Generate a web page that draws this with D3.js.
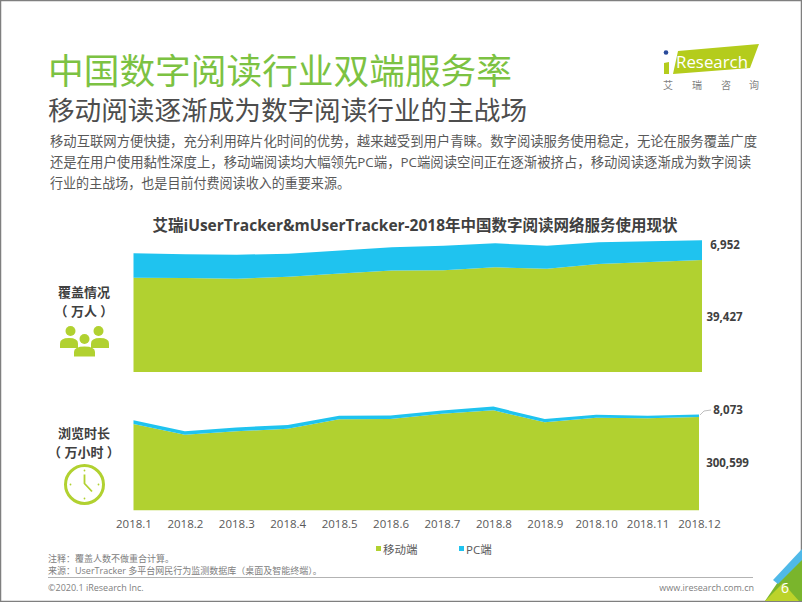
<!DOCTYPE html>
<html lang="zh">
<head>
<meta charset="utf-8">
<script src="https://cdn.jsdelivr.net/npm/d3@7/dist/d3.min.js"></script>
<style>
html,body{margin:0;padding:0;background:#fff}
svg{display:block}
text{font-family:"Open Sans","Noto Sans CJK SC",sans-serif}
</style>
</head>
<body>
<svg id="c" width="802" height="602"></svg>
<script>
const months = ["2018.1","2018.2","2018.3","2018.4","2018.5","2018.6","2018.7","2018.8","2018.9","2018.10","2018.11","2018.12"];
const coverMobile = [33200,33100,32850,33550,34700,35700,35800,36850,36350,38000,38700,39427];
const coverPC = [8600,8350,8450,8100,8100,8250,8650,8450,8100,7650,7300,6952];
const timeMobile = [278000,243550,254500,262900,293200,294100,311200,322200,283500,298300,296400,300599];
const timePC = [12000,11000,12500,12000,11500,11500,10500,12000,10800,9500,8500,8073];
const seriesNames = ["移动端","PC端"];
const seriesColors = ["#b1d130","#1fc3ef"];
const bodyLines = [
 "移动互联网方便快捷，充分利用碎片化时间的优势，越来越受到用户青睐。数字阅读服务使用稳定，无论在服务覆盖广度",
 "还是在用户使用黏性深度上，移动端阅读均大幅领先PC端，PC端阅读空间正在逐渐被挤占，移动阅读逐渐成为数字阅读",
 "行业的主战场，也是目前付费阅读收入的重要来源。"
];

const svg = d3.select("#c");

// page frame
svg.append("rect").attr("x",0.5).attr("y",0.5).attr("width",801).attr("height",601)
  .attr("fill","none").attr("stroke","#7f7f7f").attr("stroke-width",1.5);

// headings
const txt = (x,y,s,size,fill,opts={}) => svg.append("text").attr("x",x).attr("y",y).text(s)
  .attr("font-size",size).attr("fill",fill)
  .attr("font-weight",opts.w||400).attr("text-anchor",opts.a||"start")
  .attr("textLength",opts.len||null).attr("lengthAdjust",opts.len?"spacingAndGlyphs":null);

txt(48,84,"中国数字阅读行业双端服务率",35.6,"#7cc242",{len:464});
txt(48,120,"移动阅读逐渐成为数字阅读行业的主战场",26.6,"#4d4d4d",{len:479});
bodyLines.forEach((l,i)=>{
  const lens=[707,701,300];
  txt(50,[146,167,188][i],l,13.4,"#595959",{len:lens[i]});
});

// chart title
txt(415,231,"艾瑞iUserTracker&mUserTracker-2018年中国数字阅读网络服务使用现状",15.5,"#404040",{w:700,a:"middle"});

// scales
const xTop = d3.scalePoint().domain(months).range([133.5,702]);
const yTop = d3.scaleLinear().domain([0,50000]).range([372,230]);
const xBot = d3.scalePoint().domain(months).range([133.5,699]);
const yBot = d3.scaleLinear().domain([0,350000]).range([510.3,401.7]);

function stacked(x,y,mobile,pc){
  const rows = months.map((m,i)=>({m,mobile:mobile[i],pc:pc[i]}));
  const layers = d3.stack().keys(["mobile","pc"])(rows);
  const area = d3.area().x(d=>x(d.data.m)).y0(d=>y(d[0])).y1(d=>y(d[1]));
  svg.append("g").selectAll("path").data(layers).join("path")
    .attr("d",area).attr("fill",(d,i)=>seriesColors[i]);
}
stacked(xTop,yTop,coverMobile,coverPC);
stacked(xBot,yBot,timeMobile,timePC);

// axis labels
const axis = d3.axisBottom(xBot).tickSize(0).tickPadding(0);
const axG = svg.append("g").attr("transform","translate(0,520)").call(axis);
axG.select(".domain").remove();
axG.selectAll("text").attr("font-size",11.5).attr("fill","#595959")
  .attr("font-family",'"Open Sans",sans-serif').attr("dy","0.71em");

// end value labels
const fmt = d3.format(",");
const lab=(x,y,v)=>txt(x,y,fmt(v),11.5,"#404040",{w:700,a:"middle"});
lab(725,249,coverPC[11]);
lab(724.5,321,coverMobile[11]);
lab(728,414,timePC[11]);
lab(727.5,467,timeMobile[11]);
svg.append("path").attr("d","M700,415 L704,411 L711,410").attr("fill","none").attr("stroke","#bfbfbf").attr("stroke-width",1);

// left labels
txt(84,297,"覆盖情况",13,"#404040",{w:700,a:"middle"});
txt(84,316,"（ 万人 ）",13,"#404040",{w:700,a:"middle"});
txt(84,438,"浏览时长",13,"#404040",{w:700,a:"middle"});
txt(84,457,"（ 万小时 ）",13,"#404040",{w:700,a:"middle"});

// people icon
const G="#b1d130";
const person=(cx,cy,r,bx,by,bw,bh)=>{
  svg.append("circle").attr("cx",cx).attr("cy",cy).attr("r",r).attr("fill",G);
  svg.append("path").attr("d",`M${bx-bw/2},${by+bh} V${by+bh*0.55} Q${bx-bw/2},${by} ${bx},${by} Q${bx+bw/2},${by} ${bx+bw/2},${by+bh*0.55} V${by+bh} Z`).attr("fill",G);
};
person(70.5,331,5,69,338,18,10);
person(98.5,331,5,100,338,18,10);
person(84.5,339,5,84.5,346.5,21,10);

// clock icon
const ck=svg.append("g").attr("transform","translate(84.5,484.5)");
ck.append("circle").attr("r",19).attr("fill","none").attr("stroke",G).attr("stroke-width",3);
ck.append("path").attr("d","M0,-10 V-1 L7.5,7").attr("fill","none").attr("stroke",G).attr("stroke-width",1.8);
[[0,-14],[14,0],[0,14],[-14,0]].forEach(p=>ck.append("circle").attr("cx",p[0]).attr("cy",p[1]).attr("r",0.9).attr("fill",G));

// legend
svg.append("rect").attr("x",376).attr("y",546).attr("width",5).attr("height",5).attr("fill",seriesColors[0]);
txt(383,554,seriesNames[0],11.5,"#595959");
svg.append("rect").attr("x",459).attr("y",546).attr("width",5).attr("height",5).attr("fill",seriesColors[1]);
txt(466,554,seriesNames[1],11.5,"#595959");

// notes and footer
txt(48,562,"注释：覆盖人数不做重合计算。",9,"#808080");
txt(48,574,"来源：UserTracker 多平台网民行为监测数据库（桌面及智能终端）。",9,"#808080");
svg.append("line").attr("x1",48).attr("x2",753).attr("y1",577.5).attr("y2",577.5).attr("stroke","#b3b3b3").attr("stroke-width",1);
txt(48,591,"©2020.1 iResearch Inc.",9,"#808080");
txt(754,591,"www.iresearch.com.cn",9,"#808080",{a:"end"});

// corner decoration
svg.append("polygon").attr("points","778,582 802,558 802,601 765,601").attr("fill","#7ab52c");
svg.append("polygon").attr("points","765,601 783,583 799,601").attr("fill","#bcd32a");
svg.append("polygon").attr("points","773,580 802,549 802,560 778,584").attr("fill","#4fb9e8");
txt(785,593,"6",14,"#ffffff",{a:"middle"});

// logo
svg.append("polygon").attr("points","678,51 759,44 750,68 673,74").attr("fill","#b4cc1c");
svg.append("polygon").attr("points","664,63 669,62 669,74 664,74").attr("fill","#b4cc1c");
svg.append("circle").attr("cx",666).attr("cy",52.5).attr("r",2.3).attr("fill","#2a4b9b");
txt(676,68,"Research",17,"#ffffff",{len:72});
["艾","瑞","咨","询"].forEach((c,i)=>txt([668,697,726,754][i],89,c,10,"#7f7f7f",{a:"middle"}));
</script>
</body>
</html>
